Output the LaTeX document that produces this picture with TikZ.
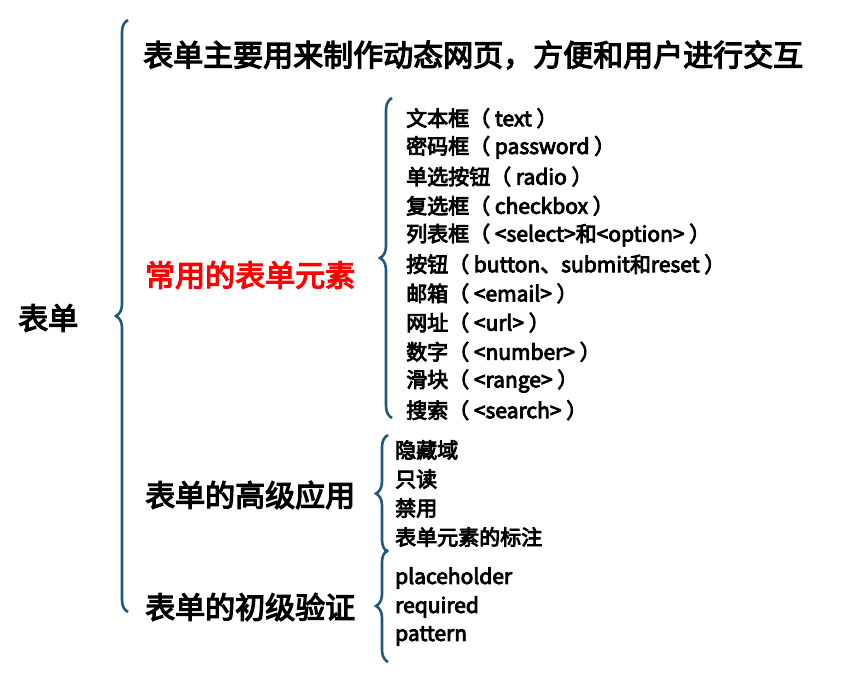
\documentclass[tikz,border=0pt]{standalone}
\usepackage{fontspec}
\setmainfont{Noto Sans CJK SC}[FakeBold=4]
\usetikzlibrary{decorations.pathreplacing}
\definecolor{br}{HTML}{1F5A7A}
\tikzset{
 big/.style={anchor=west,font=\fontsize{30}{32}\selectfont,inner sep=0},
 item/.style={anchor=west,font=\fontsize{21}{23}\selectfont,inner sep=0},
 brc/.style={decorate,decoration={brace,amplitude=12pt,mirror},draw=br,line width=2.6pt}
}
\begin{document}
\begin{tikzpicture}[x=1pt,y=-1pt]
\useasboundingbox (0,0) rectangle (845,673);
\node[big] (root) at (18,318) {表单};
\node[big] (t0) at (143,55) {表单主要用来制作动态网页，方便和用户进行交互};
\node[big,text=red] (t1) at (145,275) {常用的表单元素};
\node[big] (t2) at (145,495) {表单的高级应用};
\node[big] (t3) at (145,607) {表单的初级验证};
\draw[brc] (128,20) -- (128,612);
\draw[brc] (392,98) -- (392,418);
\draw[brc] (388,435) -- (388,552);
\draw[brc] (388,550) -- (388,662);
\foreach \t [count=\i] in {文本框（ text ）,密码框（ password ）,单选按钮（ radio ）,复选框（ checkbox ）,列表框（ <select>和<option> ）,按钮（ button、submit和reset ）,邮箱（ <email> ）,网址（ <url> ）,数字（ <number> ）,滑块（ <range> ）,搜索（ <search> ）}
  \node[item] (a\i) at (406,{89+29.2*\i}) {\t};
\foreach \t [count=\i] in {隐藏域,只读,禁用,表单元素的标注}
  \node[item] (b\i) at (395,{421+29*\i}) {\t};
\foreach \t [count=\i] in {placeholder,required,pattern}
  \node[item] (c\i) at (395,{549+29*\i}) {\t};
\end{tikzpicture}
\end{document}
